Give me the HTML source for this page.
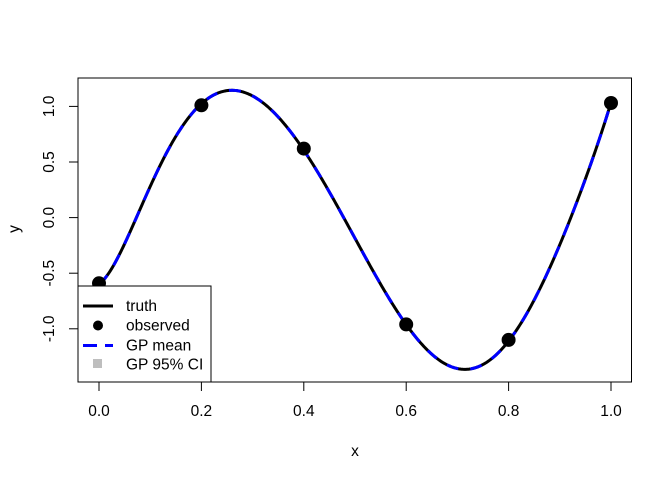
<!DOCTYPE html>
<html><head><style>body{margin:0;background:#fff}svg{display:block}text{font-family:"Liberation Sans",sans-serif;font-size:15.5px;fill:#000}</style></head>
<body>
<svg width="672" height="480" viewBox="0 0 672 480">
<rect width="672" height="480" fill="#fff"/>
<g id="curves"></g>
<rect x="78" y="78" width="553.5" height="304" fill="none" stroke="#000" stroke-width="1"/>
<g stroke="#000">
<line x1="99" y1="382" x2="611" y2="382"/>
<line x1="99" y1="382" x2="99" y2="391"/><line x1="201.4" y1="382" x2="201.4" y2="391"/><line x1="303.8" y1="382" x2="303.8" y2="391"/><line x1="406.2" y1="382" x2="406.2" y2="391"/><line x1="508.6" y1="382" x2="508.6" y2="391"/><line x1="611" y1="382" x2="611" y2="391"/>
<line x1="78" y1="106.4" x2="78" y2="328.8"/>
<line x1="69" y1="106.4" x2="78" y2="106.4"/><line x1="69" y1="162" x2="78" y2="162"/><line x1="69" y1="217.6" x2="78" y2="217.6"/><line x1="69" y1="273.2" x2="78" y2="273.2"/><line x1="69" y1="328.8" x2="78" y2="328.8"/>
</g>
<g text-anchor="middle">
<text x="99" y="416">0.0</text><text x="201.4" y="416">0.2</text><text x="303.8" y="416">0.4</text><text x="406.2" y="416">0.6</text><text x="508.6" y="416">0.8</text><text x="611" y="416">1.0</text>
<text x="355" y="456">x</text>
<text transform="translate(54,106.4) rotate(-90)">1.0</text>
<text transform="translate(54,162) rotate(-90)">0.5</text>
<text transform="translate(54,217.6) rotate(-90)">0.0</text>
<text transform="translate(54,273.2) rotate(-90)">-0.5</text>
<text transform="translate(54,328.8) rotate(-90)">-1.0</text>
<text transform="translate(19,229) rotate(-90)">y</text>
</g>
<rect x="78" y="286" width="133" height="96" fill="#fff" stroke="#000"/>
<line x1="83" y1="306" x2="113" y2="306" stroke="#000" stroke-width="3"/>
<circle cx="98" cy="325.5" r="5" fill="#000"/>
<line x1="83" y1="345.5" x2="113" y2="345.5" stroke="#00f" stroke-width="3" stroke-dasharray="14,8"/>
<rect x="93" y="359" width="9" height="9" fill="#bebebe"/>
<text x="126" y="311">truth</text>
<text x="126" y="330.5">observed</text>
<text x="126" y="350.5">GP mean</text>
<text x="126" y="369.5">GP 95% CI</text>
</svg>
<script>
var P=[[99,284],[150,190],[160,162.7],[183.3,123.3],[201,105],[233,91.7],[253,96.7],[280,118.3],[303.8,149],[346.7,223.3],[380,283.3],[406,325],[443.3,363.3],[466.7,368.3],[508.6,340],[546.7,276.7],[573.3,210],[600,136.7],[611,103]];
var D=8,n=D+1,A=[],b=[];
for(var i=0;i<n;i++){A.push(new Array(n).fill(0));b.push(0);}
P.forEach(function(p){var t=(p[0]-355)/256,ph=[];for(var k=0;k<n;k++)ph.push(Math.pow(t,k));
for(var r=0;r<n;r++){b[r]+=ph[r]*p[1];for(var c=0;c<n;c++)A[r][c]+=ph[r]*ph[c];}});
for(var c=0;c<n;c++){var m=c;for(var r=c+1;r<n;r++)if(Math.abs(A[r][c])>Math.abs(A[m][c]))m=r;
var tmp=A[c];A[c]=A[m];A[m]=tmp;tmp=b[c];b[c]=b[m];b[m]=tmp;
for(var r=0;r<n;r++)if(r!=c){var f=A[r][c]/A[c][c];for(var k=c;k<n;k++)A[r][k]-=f*A[c][k];b[r]-=f*b[c];}}
var co=b.map(function(v,i){return v/A[i][i];});
var d="";for(var x=99;x<=611;x+=1){var t=(x-355)/256,y=0;for(var k=0;k<n;k++)y+=co[k]*Math.pow(t,k);d+=(x==99?"M":"L")+x+","+y.toFixed(2);}
var pts=[[99,283.3],[201.4,105.3],[303.8,148.6],[406.2,324.4],[508.6,339.9],[611,103]];
var s='<path d="'+d+'" fill="none" stroke="#000" stroke-width="3"/><path d="'+d+'" fill="none" stroke="#00f" stroke-width="3" stroke-dasharray="12,12"/>';
pts.forEach(function(p){s+='<circle cx="'+p[0]+'" cy="'+p[1]+'" r="7" fill="#000"/>';});
document.getElementById("curves").innerHTML=s;
</script>
</body></html>
